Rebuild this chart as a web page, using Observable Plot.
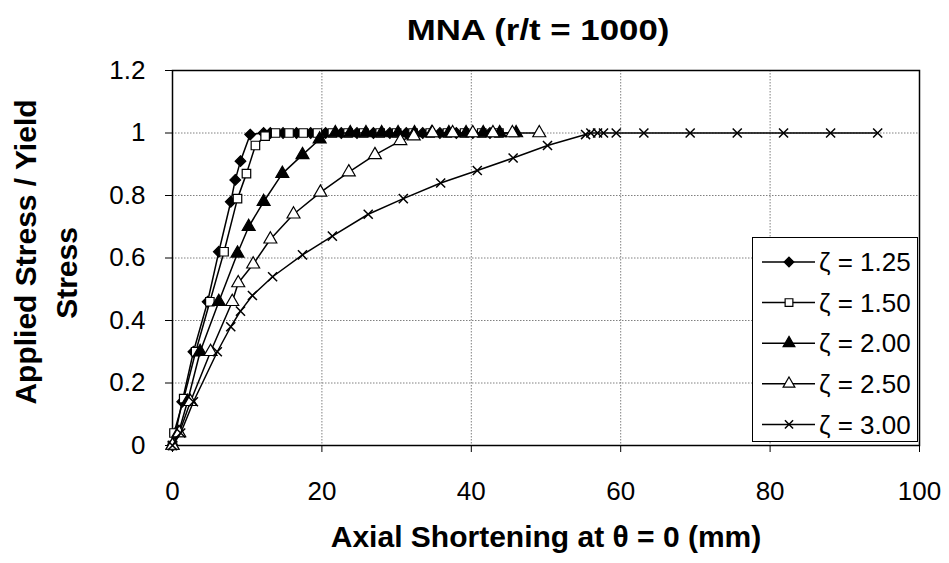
<!DOCTYPE html>
<html>
<head>
<meta charset="utf-8">
<script src="https://cdn.jsdelivr.net/npm/d3@7"></script>
<script src="https://cdn.jsdelivr.net/npm/@observablehq/plot@0.6"></script>
<style>
  body { margin: 0; background: #fff; }
  #wrap { position: relative; width: 949px; height: 563px; font-family: "Liberation Sans", Arial, sans-serif; }
  #title { position: absolute; top: 16px; left: 538px; transform: translateX(-50%) scaleX(1.2); transform-origin: center; font-weight: bold; font-size: 29px; line-height: 1; white-space: nowrap; }
  #legend { position: absolute; left: 752px; top: 237px; width: 166px; height: 205px; border: 1.5px solid #000; background: #fff; box-sizing: border-box; }
</style>
</head>
<body>
<div id="wrap">
  <div id="chart"></div>
  <div id="title">MNA (r/t = 1000)</div>
  <div id="legend"></div>
</div>
<script>
const seriesNames = ["ζ = 1.25", "ζ = 1.50", "ζ = 2.00", "ζ = 2.50", "ζ = 3.00"];
const xTicks = [0, 20, 40, 60, 80, 100];
const yTicks = [0, 0.2, 0.4, 0.6, 0.8, 1, 1.2];

const x125 = [0, 0.4, 1.3, 2.8, 4.7, 6.2, 7.8, 8.4, 9.1, 10.4, 12.2, 13.1, 14.8, 16.6, 18.5, 20.5, 22.6, 24.7, 26.9, 29.1, 31.3, 33.5, 35.8, 38.0, 40.2, 42.5];
const y125 = [0, 0.04, 0.14, 0.30, 0.46, 0.62, 0.78, 0.85, 0.91, 0.995, 1, 1, 1, 1, 1, 1, 1, 1, 1, 1, 1, 1, 1, 1, 1, 1];

const x150 = [0, 0.2, 1.5, 3.1, 5.0, 6.9, 8.7, 9.9, 11.1, 12.4, 13.8, 15.6, 17.5, 19.4, 21.4, 23.5, 25.6, 27.8, 30.0, 32.2, 34.5, 36.8, 39.1, 41.4, 43.7];
const y150 = [0, 0.04, 0.15, 0.30, 0.46, 0.62, 0.79, 0.87, 0.96, 0.99, 1, 1, 1, 1, 1, 1, 1, 1, 1, 1, 1, 1, 1, 1, 1];

const x200 = [0, 0.8, 2.0, 3.7, 6.2, 8.7, 10.2, 12.2, 14.7, 17.4, 19.7, 21.8, 23.8, 25.9, 28.0, 30.2, 32.4, 34.7, 37.0, 39.3, 41.6, 43.8, 46.0];
const y200 = [0, 0.04, 0.14, 0.30, 0.46, 0.615, 0.70, 0.78, 0.87, 0.93, 0.98, 1, 1, 1, 1, 1, 1, 1, 1, 1, 1, 1, 1];

const x250 = [0, 0.9, 2.4, 5.1, 8.0, 8.8, 10.8, 13.1, 16.2, 19.8, 23.6, 27.1, 30.5, 32.3, 34.8, 37.5, 40.2, 42.9, 45.5, 49.1];
const y250 = [0, 0.04, 0.14, 0.30, 0.46, 0.52, 0.58, 0.66, 0.74, 0.81, 0.875, 0.93, 0.975, 0.99, 1, 1, 1, 1, 1, 1];

const x300 = [0, 1.1, 2.8, 6.0, 7.8, 9.1, 10.7, 13.4, 17.4, 21.4, 26.2, 30.9, 35.9, 40.8, 45.6, 50.2, 55.3, 56.0, 56.9, 57.7, 59.4, 63.1, 69.3, 75.6, 81.8, 88.1, 94.4];
const y300 = [0, 0.04, 0.14, 0.30, 0.38, 0.43, 0.48, 0.54, 0.61, 0.67, 0.74, 0.79, 0.84, 0.88, 0.92, 0.96, 0.995, 1, 1, 1, 1, 1, 1, 1, 1, 1, 1];

const xs = [x125, x150, x200, x250, x300];
const ys = [y125, y150, y200, y250, y300];
const symbols = ["diamond2", "square", "triangle", "triangle", "times"];
const fills = ["black", "white", "black", "white", "none"];
const d3symbols = [d3.symbolDiamond2, d3.symbolSquare, d3.symbolTriangle, d3.symbolTriangle, d3.symbolTimes];

const series = seriesNames.map((name, i) => xs[i].map((x, j) => ({name, x, y: ys[i][j]})));

const font = "Liberation Sans, Arial, sans-serif";
const marks = [
  Plot.gridX([20, 40, 60, 80], {stroke: "#808080", strokeOpacity: 1, strokeDasharray: "1.5,1.5", strokeWidth: 1}),
  Plot.gridY([0.2, 0.4, 0.6, 0.8, 1.0], {stroke: "#808080", strokeOpacity: 1, strokeDasharray: "1.5,1.5", strokeWidth: 1}),
  Plot.axisX({ticks: xTicks, tickSize: 7, tickPadding: 29, fontSize: 26, label: null, tickFormat: d => String(d)}),
  Plot.axisY({ticks: yTicks, tickSize: 7, tickPadding: 20, fontSize: 26, label: null, tickFormat: d => String(d)}),
  Plot.frame({stroke: "black", strokeWidth: 1.5})
];
series.forEach((data, i) => {
  marks.push(Plot.line(data, {x: "x", y: "y", stroke: "black", strokeWidth: 1.5}));
  marks.push(Plot.dot(data, {x: "x", y: "y", symbol: () => symbols[i], r: i === 4 ? 4.2 : 4.8,
    fill: fills[i], stroke: "black", strokeWidth: i === 4 ? 1.5 : 1.2}));
});
marks.push(Plot.text(["Axial Shortening at θ = 0 (mm)"], {frameAnchor: "bottom", lineAnchor: "middle", dy: 92, fontSize: 30, fontWeight: "bold", fill: "black", text: d => d}));
marks.push(Plot.text(["Applied Stress / Yield"], {frameAnchor: "left", textAnchor: "middle", lineAnchor: "middle", dx: -146, dy: -6, rotate: -90, fontSize: 30, fontWeight: "bold", fill: "black", text: d => d}));
marks.push(Plot.text(["Stress"], {frameAnchor: "left", textAnchor: "middle", lineAnchor: "middle", dx: -105, dy: 15, rotate: -90, fontSize: 30, fontWeight: "bold", fill: "black", text: d => d}));

const chart = Plot.plot({
  width: 949, height: 563,
  marginTop: 70, marginBottom: 118, marginLeft: 172, marginRight: 30,
  style: {fontFamily: font, fontSize: "26px", color: "black", background: "white"},
  x: {domain: [0, 100]},
  y: {domain: [0, 1.2]},
  symbol: {type: "identity"},
  marks
});
document.getElementById("chart").appendChild(chart);

// Legend
const lg = d3.select("#legend").append("svg").attr("width", 163).attr("height", 202);
seriesNames.forEach((name, i) => {
  const cy = 24 + i * 40.6;
  const g = lg.append("g").attr("transform", `translate(0,${cy})`);
  g.append("line").attr("x1", 9).attr("x2", 62).attr("y1", 0).attr("y2", 0).attr("stroke", "black").attr("stroke-width", 1.5);
  g.append("path").attr("transform", "translate(36,0)")
    .attr("d", d3.symbol(d3symbols[i], i === 4 ? 45 : 60)())
    .attr("fill", fills[i]).attr("stroke", "black").attr("stroke-width", i === 4 ? 1.5 : 1.2);
  g.append("text").attr("x", 66).attr("y", 0).attr("dy", "0.35em")
    .attr("font-family", font).attr("font-size", 26).text(name);
});
</script>
</body>
</html>
